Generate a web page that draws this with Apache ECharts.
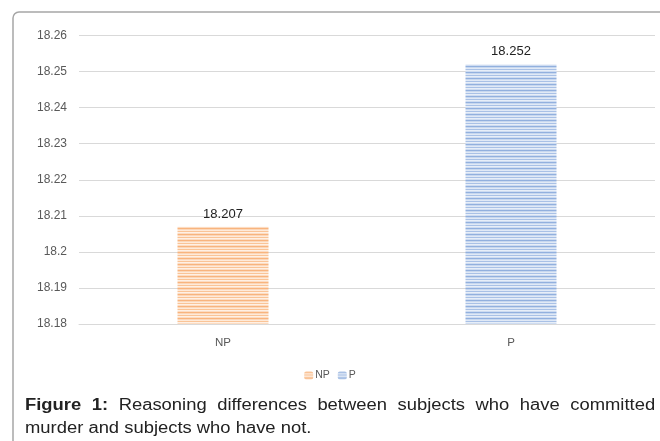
<!DOCTYPE html>
<html>
<head>
<meta charset="utf-8">
<script src="https://cdn.jsdelivr.net/npm/echarts@6/dist/echarts.min.js"></script>
<style>
html,body{margin:0;padding:0;background:#fff;}
#chart{position:absolute;left:0;top:0;width:660px;height:441px;}
#cap{position:absolute;left:25px;top:393px;width:534px;font-family:"Liberation Sans",Arial,sans-serif;font-size:15.6px;line-height:23px;color:#222;text-align:justify;text-align-last:left;transform:scaleX(1.18);transform-origin:0 0;}
</style>
</head>
<body>
<div id="chart"></div>
<div id="cap"><b>Figure 1:</b> Reasoning differences between subjects who have committed murder and subjects who have not.</div>
<script>
var categories = ['NP', 'P'];
var seriesNames = ['NP', 'P'];
var npValues = [18.207, '-'];
var pValues = ['-', 18.252];
var yMin = 18.18, yMax = 18.26, yStep = 0.01;

function stripes(rows) {
  var c = document.createElement('canvas');
  c.width = 4; c.height = rows.length;
  var ctx = c.getContext('2d');
  rows.forEach(function (col, i) { ctx.fillStyle = col; ctx.fillRect(0, i, 4, 1); });
  return c;
}
var orangePat = stripes(['#f8b47e', '#fcd7b9', '#feead9', '#fac497', '#fff0e4', '#fcdcc2']);
var bluePat = stripes(['#92b0de', '#c8d8ef', '#e0e9f6', '#a9c1e6', '#e7eef8', '#cedcf1']);

var chart = echarts.init(document.getElementById('chart'), null, {renderer: 'canvas'});
var labelFont = {fontFamily: 'Liberation Sans, Arial, sans-serif'};
chart.setOption({
  animation: false,
  backgroundColor: 'transparent',
  graphic: [{
    type: 'rect', left: 10.5, top: 9.5, z: -1,
    shape: {x: 0, y: 0, width: 700, height: 500, r: 6},
    style: {fill: 'none', stroke: '#a6a6a6', lineWidth: 1.5}
  }],
  grid: {left: 79, right: 5, top: 35.5, bottom: 117},
  legend: {
    data: seriesNames, left: 'center', top: 365,
    itemWidth: 9, itemHeight: 8, itemGap: 8,
    textStyle: Object.assign({color: '#595959', fontSize: 10.5, padding: [0,0,0,-3]}, labelFont)
  },
  xAxis: {
    type: 'category', data: categories,
    axisLine: {lineStyle: {color: '#d9d9d9'}},
    axisTick: {show: false},
    axisLabel: Object.assign({color: '#595959', fontSize: 11.5, margin: 13}, labelFont)
  },
  yAxis: {
    type: 'value', min: yMin, max: yMax, interval: yStep,
    axisLine: {show: false}, axisTick: {show: false},
    splitLine: {lineStyle: {color: '#d9d9d9'}},
    axisLabel: Object.assign({color: '#595959', fontSize: 12, margin: 12,
      formatter: function (v) { return String(+v.toFixed(2)); }}, labelFont)
  },
  series: [{
    name: seriesNames[0], type: 'bar', data: npValues, barWidth: 91, barGap: '-100%',
    itemStyle: {color: {image: orangePat, repeat: 'repeat'}},
    label: Object.assign({show: true, position: 'top', color: '#222', fontSize: 13, distance: 6,
      formatter: function (p) { return p.value.toFixed(3); }}, labelFont)
  }, {
    name: seriesNames[1], type: 'bar', data: pValues, barWidth: 91,
    itemStyle: {color: {image: bluePat, repeat: 'repeat'}},
    label: Object.assign({show: true, position: 'top', color: '#222', fontSize: 13, distance: 6,
      formatter: function (p) { return p.value.toFixed(3); }}, labelFont)
  }]
});
</script>
</body>
</html>
